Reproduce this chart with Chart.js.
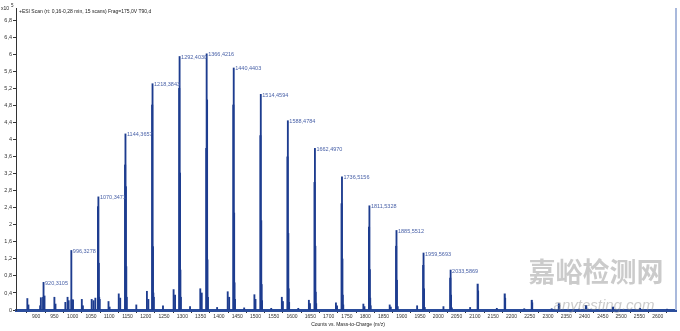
<!DOCTYPE html>
<html>
<head>
<meta charset="utf-8">
<script src="https://cdn.jsdelivr.net/npm/chart.js@4"></script>
<style>
  body { margin: 0; background: #fff; }
  canvas { display: block; }
</style>
</head>
<body>
<canvas id="spectrum" width="680" height="331"></canvas>
<script>
// values (counts x10^5 vs m/z)
const labeledMz = [920.3105, 996.3278, 1070.3471, 1144.3657, 1218.3843, 1292.4030, 1366.4216, 1440.4403,
  1514.4594, 1588.4784, 1662.4970, 1736.5156, 1811.5328, 1885.5512, 1959.5693, 2033.5869];
const labeledInt = [0.65, 1.40, 2.66, 4.14, 5.32, 5.96, 6.02, 5.69, 5.07, 4.45, 3.80, 3.13, 2.45, 1.87, 1.34, 0.94];
const peakLabels = ['920,3105', '996,3278', '1070,3471', '1144,3657', '1218,3843', '1292,4030', '1366,4216', '1440,4403',
  '1514,4594', '1588,4784', '1662,4970', '1736,5156', '1811,5328', '1885,5512', '1959,5693', '2033,5869'];

// isotope sticks around the big peaks and the unlabeled tail of the series
const isoMz = [919.3, 921.3, 997.3, 998.3, 1069.3, 1071.3, 1072.3, 1143.4, 1145.4, 1146.4, 1217.4, 1219.4, 1220.4,
  1291.4, 1293.4, 1294.4, 1365.4, 1367.4, 1368.4, 1439.4, 1441.4, 1442.4, 1513.5, 1515.5, 1516.5,
  1587.5, 1589.5, 1590.5, 1661.5, 1663.5, 1664.5, 1735.5, 1737.5, 1738.5, 1810.5, 1812.5, 1813.5,
  1884.6, 1886.6, 1958.6, 1960.6, 2032.6, 2034.6,
  2107.6, 2108.6, 2181.6, 2182.6, 2255.6, 2256.6, 2329.6, 2330.6, 2403.6, 2404.6, 2477.6, 2551.6, 2625.6];
const isoInt = [0.30, 0.22, 0.24, 0.10, 2.43, 1.10, 0.30, 3.41, 2.90, 1.02, 4.82, 1.49, 0.40,
  5.21, 3.22, 0.94, 3.80, 4.94, 1.18, 4.82, 2.28, 0.64, 4.10, 2.10, 0.60,
  3.60, 1.80, 0.50, 3.00, 1.50, 0.42, 2.50, 1.20, 0.35, 1.95, 0.95, 0.28,
  1.50, 0.70, 1.05, 0.50, 0.75, 0.35,
  0.61, 0.45, 0.38, 0.28, 0.23, 0.17, 0.15, 0.11, 0.11, 0.08, 0.07, 0.04, 0.02];

// small side peaks
const minorMz = [876, 879, 911, 913, 923, 950, 953, 980, 986, 989, 1001, 1025, 1028, 1052, 1057, 1062, 1074,
  1098, 1101, 1126, 1130, 1148, 1174, 1203, 1207, 1222, 1247, 1276, 1280, 1296, 1321, 1349, 1353, 1370,
  1395, 1424, 1428, 1444, 1469, 1497, 1500, 1518, 1543, 1572, 1575, 1592, 1617, 1646, 1649, 1666,
  1720, 1723, 1740, 1795, 1798, 1815, 1867, 1870, 1889, 1942, 1963, 2014, 2037, 2087, 2160, 2235, 2310, 2385];
const minorInt = [0.27, 0.12, 0.10, 0.29, 0.33, 0.30, 0.14, 0.18, 0.30, 0.22, 0.24, 0.25, 0.10, 0.25, 0.22, 0.28, 0.25,
  0.20, 0.07, 0.38, 0.28, 0.30, 0.12, 0.44, 0.25, 0.30, 0.10, 0.48, 0.35, 0.30, 0.08, 0.50, 0.40, 0.30,
  0.06, 0.43, 0.30, 0.25, 0.05, 0.36, 0.25, 0.22, 0.04, 0.30, 0.20, 0.18, 0.04, 0.23, 0.15, 0.15,
  0.17, 0.10, 0.12, 0.14, 0.08, 0.10, 0.12, 0.07, 0.08, 0.10, 0.06, 0.08, 0.05, 0.06, 0.04, 0.03, 0.03, 0.02];

const xTicks = [900, 950, 1000, 1050, 1100, 1150, 1200, 1250, 1300, 1350, 1400, 1450, 1500, 1550, 1600, 1650,
  1700, 1750, 1800, 1850, 1900, 1950, 2000, 2050, 2100, 2150, 2200, 2250, 2300, 2350, 2400, 2450, 2500, 2550, 2600];
const yTicks = [0, 0.2, 0.4, 0.6, 0.8, 1, 1.2, 1.4, 1.6, 1.8, 2, 2.2, 2.4, 2.6, 2.8, 3, 3.2, 3.4, 3.6, 3.8,
  4, 4.2, 4.4, 4.6, 4.8, 5, 5.2, 5.4, 5.6, 5.8, 6, 6.2, 6.4, 6.6, 6.8];

const titleText = '+ESI Scan (rt: 0,16-0,28 min, 15 scans) Frag=175,0V T90,d';
const xTitle = 'Counts vs. Mass-to-Charge (m/z)';

const peakColor = '#1d3c8f';
const labelColor = '#4a62a8';
const font = '"Liberation Sans", Arial, sans-serif';

function pts(xs, ys) {
  return xs.map((x, i) => ({ x: x, y: ys[i] }));
}

// texts, frame and peak labels
const decorations = {
  id: 'decorations',
  afterDatasetsDraw(chart) {
    const c = chart.ctx;
    const a = chart.chartArea;
    const xs = chart.scales.x;
    const ys = chart.scales.y;
    c.save();
    // right frame
    c.strokeStyle = '#a9b9dc';
    c.lineWidth = 2;
    c.beginPath();
    c.moveTo(a.right, a.top);
    c.lineTo(a.right, a.bottom);
    c.stroke();

    c.fillStyle = labelColor;
    c.font = '5.5px ' + font;
    c.textAlign = 'left';
    c.textBaseline = 'middle';
    labeledMz.forEach((mz, i) => {
      c.fillText(peakLabels[i], xs.getPixelForValue(mz) + 1.5, ys.getPixelForValue(labeledInt[i]) + 1);
    });

    c.fillStyle = '#222';
    c.font = '5px ' + font;
    c.fillText(titleText, a.left + 3, 12);
    c.fillText('x10', 1, 9);
    c.font = '4.5px ' + font;
    c.fillText('5', 11, 6);

    c.font = '5px ' + font;
    c.textAlign = 'center';
    c.fillText(xTitle, (a.left + a.right) / 2 + 2, 325);

    // site watermark
    c.fillStyle = 'rgba(140,140,140,0.45)';
    c.font = 'bold 27px "Noto Sans CJK SC", sans-serif';
    c.fillText('嘉峪检测网', 596, 272);
    c.font = 'italic 15px "Liberation Sans", Arial, sans-serif';
    c.fillText('anytesting.com', 604, 306);
    c.restore();
  }
};

const ctx = document.getElementById('spectrum').getContext('2d');
new Chart(ctx, {
  type: 'bar',
  data: {
    datasets: [
      { data: pts(minorMz, minorInt), barThickness: 1.2, backgroundColor: peakColor, borderWidth: 0, grouped: false },
      { data: pts(isoMz, isoInt), barThickness: 1.4, backgroundColor: peakColor, borderWidth: 0, grouped: false },
      { data: pts(labeledMz, labeledInt), barThickness: 1.2, backgroundColor: peakColor, borderWidth: 0, grouped: false }
    ]
  },
  options: {
    responsive: false,
    animation: false,
    layout: { padding: { top: 8, right: 4, left: 0, bottom: 0 } },
    plugins: { legend: { display: false }, tooltip: { enabled: false } },
    scales: {
      x: {
        type: 'linear',
        min: 845,
        max: 2650,
        offset: false,
        afterFit: (s) => { s.height = 21; },
        afterBuildTicks: (s) => { s.ticks = xTicks.map(v => ({ value: v })); },
        grid: { drawOnChartArea: false, drawTicks: true, tickLength: 3, color: '#333' },
        border: { display: true, color: '#2b4d9c', width: 3 },
        ticks: {
          autoSkip: false,
          maxRotation: 0,
          padding: 1,
          color: '#333',
          font: { size: 5, family: font },
          callback: (v) => String(v)
        }
      },
      y: {
        min: 0,
        max: 7.1,
        afterFit: (s) => { s.width = 16; },
        afterBuildTicks: (s) => { s.ticks = yTicks.map(v => ({ value: v })); },
        grid: { drawOnChartArea: false, drawTicks: true, tickLength: 3, color: '#333' },
        border: { display: true, color: '#333', width: 1 },
        ticks: {
          padding: 1,
          color: '#333',
          font: { size: 5.5, family: font },
          callback: (v) => String(v).replace('.', ',')
        }
      }
    }
  },
  plugins: [decorations]
});
</script>
</body>
</html>
